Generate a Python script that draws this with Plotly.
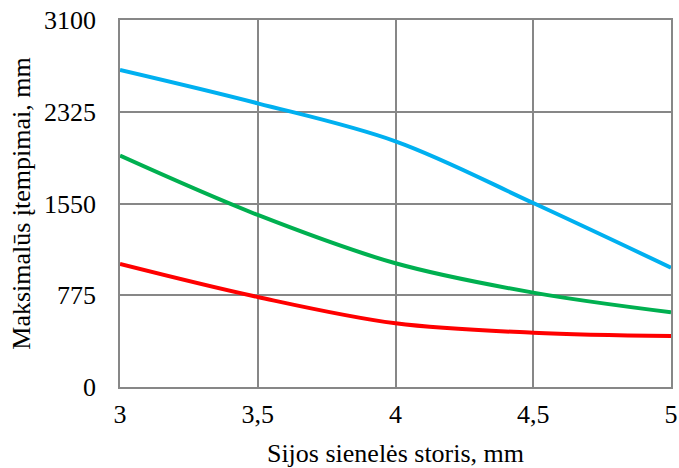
import plotly.graph_objects as go

x = [3, 3.5, 4, 4.5, 5]
blue = [2678, 2396, 2075, 1554, 1008]
green = [1954, 1453, 1045, 797, 631]
red = [1039, 760, 538, 459, 431]

x_ticks = [3, 3.5, 4, 4.5, 5]
x_labels = ["3", "3,5", "4", "4,5", "5"]
y_ticks = [0, 775, 1550, 2325, 3100]

fig = go.Figure()
for vals, col in [(blue, "#00B0F0"), (green, "#00B050"), (red, "#FF0000")]:
    fig.add_trace(go.Scatter(x=x, y=vals, mode="lines",
                             line=dict(color=col, width=4, shape="spline", smoothing=1.0),
                             showlegend=False))

font = dict(family="Liberation Serif", size=26, color="black")
fig.update_layout(
    width=679, height=468,
    margin=dict(l=120, r=8, t=20, b=81),
    plot_bgcolor="white", paper_bgcolor="white",
    font=font,
)
fig.update_xaxes(range=[3, 5], tickvals=x_ticks, ticktext=x_labels,
                 showgrid=True, gridcolor="#878787", gridwidth=1.5,
                 showline=True, linecolor="#878787", linewidth=1.5, mirror=True,
                 ticks="", ticklen=0, tickfont=font, automargin=False,
                 ticklabelstandoff=3,
                 title=dict(text="Sijos sienelės storis, mm", font=font, standoff=16),
                 zeroline=False)
fig.update_yaxes(range=[0, 3100], tickvals=y_ticks,
                 showgrid=True, gridcolor="#878787", gridwidth=1.5,
                 showline=True, linecolor="#878787", linewidth=1.5, mirror=True,
                 ticks="", tickfont=font, automargin=False,
                 ticklabelstandoff=17,
                 title=dict(text="Maksimalūs įtempimai, mm", font=font, standoff=6),
                 zeroline=False)
fig.write_html("out.html")
